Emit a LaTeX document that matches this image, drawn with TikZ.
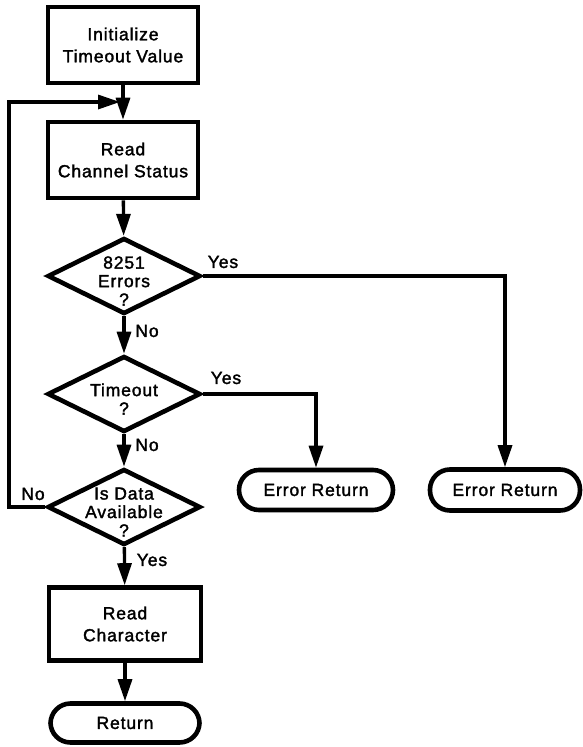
\documentclass[tikz,border=0pt]{standalone}
\usepackage{fontspec}
\setmainfont{Liberation Sans}[LetterSpace=5,FakeBold=1.8]
\usetikzlibrary{shapes.geometric,arrows.meta}
\begin{document}
\begin{tikzpicture}[x=1pt,y=-1pt,
  txt/.style={font=\fontsize{17.5}{22}\selectfont},
  proc/.style={draw, line width=4.6pt, align=center, inner sep=0pt, txt},
  dec/.style={diamond, draw, line width=4.6pt, inner sep=0pt,
     minimum width=153pt, minimum height=76pt},
  dtxt/.style={align=center, inner sep=0pt, font=\fontsize{17.5}{18.5}\selectfont},
  term/.style={draw, line width=4.6pt, rounded corners=20pt, inner sep=0pt, txt},
  conn/.style={line width=3.3pt, -{Triangle[length=22pt,width=14pt]}},
  lbl/.style={inner sep=0pt, txt}]
\useasboundingbox (0,0) rectangle (583,747);
\node[proc, minimum width=150pt, minimum height=76pt] (init) at (123,45) {Initialize\\Timeout Value};
\node[proc, minimum width=150pt, minimum height=76pt] (read) at (123,160) {Read\\Channel Status};
\node[dec] (d1) at (124,276) {};
\node[dec] (d2) at (124,394) {};
\node[dec] (d3) at (124,507) {};
\node[dtxt] (t1) at (124,281) {8251\\Errors\\?};
\node[dtxt] (t2) at (124,399) {Timeout\\?};
\node[dtxt] (t3) at (124,512) {Is Data\\Available\\?};
\node[proc, minimum width=152pt, minimum height=73pt] (rc) at (125,624) {Read\\Character};
\node[term, minimum width=149pt, minimum height=39pt] (ret) at (125,723) {Return};
\node[term, minimum width=154pt, minimum height=40pt] (er1) at (316,490) {Error Return};
\node[term, minimum width=150pt, minimum height=41pt] (er2) at (505,490) {Error Return};
\coordinate (lc) at (9,102);
\coordinate (join) at (120,102);
\draw[conn] (init) -- (read);
\draw[conn] (d3.west) -| (lc) -- (join);
\draw[conn] (read) -- (d1);
\draw[conn] (d1) -- (d2);
\draw[conn] (d2) -- (d3);
\draw[conn] (d3) -- (rc);
\draw[conn] (rc) -- (ret);
\draw[conn] (d1.east) -| (er2);
\draw[conn] (d2.east) -| (er1);
\node[lbl] (y1) at (223,262) {Yes};
\node[lbl] (y2) at (226,378) {Yes};
\node[lbl] (n1) at (147,331) {No};
\node[lbl] (n2) at (147,445) {No};
\node[lbl] (n3) at (33,494) {No};
\node[lbl] (y3) at (152,560) {Yes};
\end{tikzpicture}
\end{document}
